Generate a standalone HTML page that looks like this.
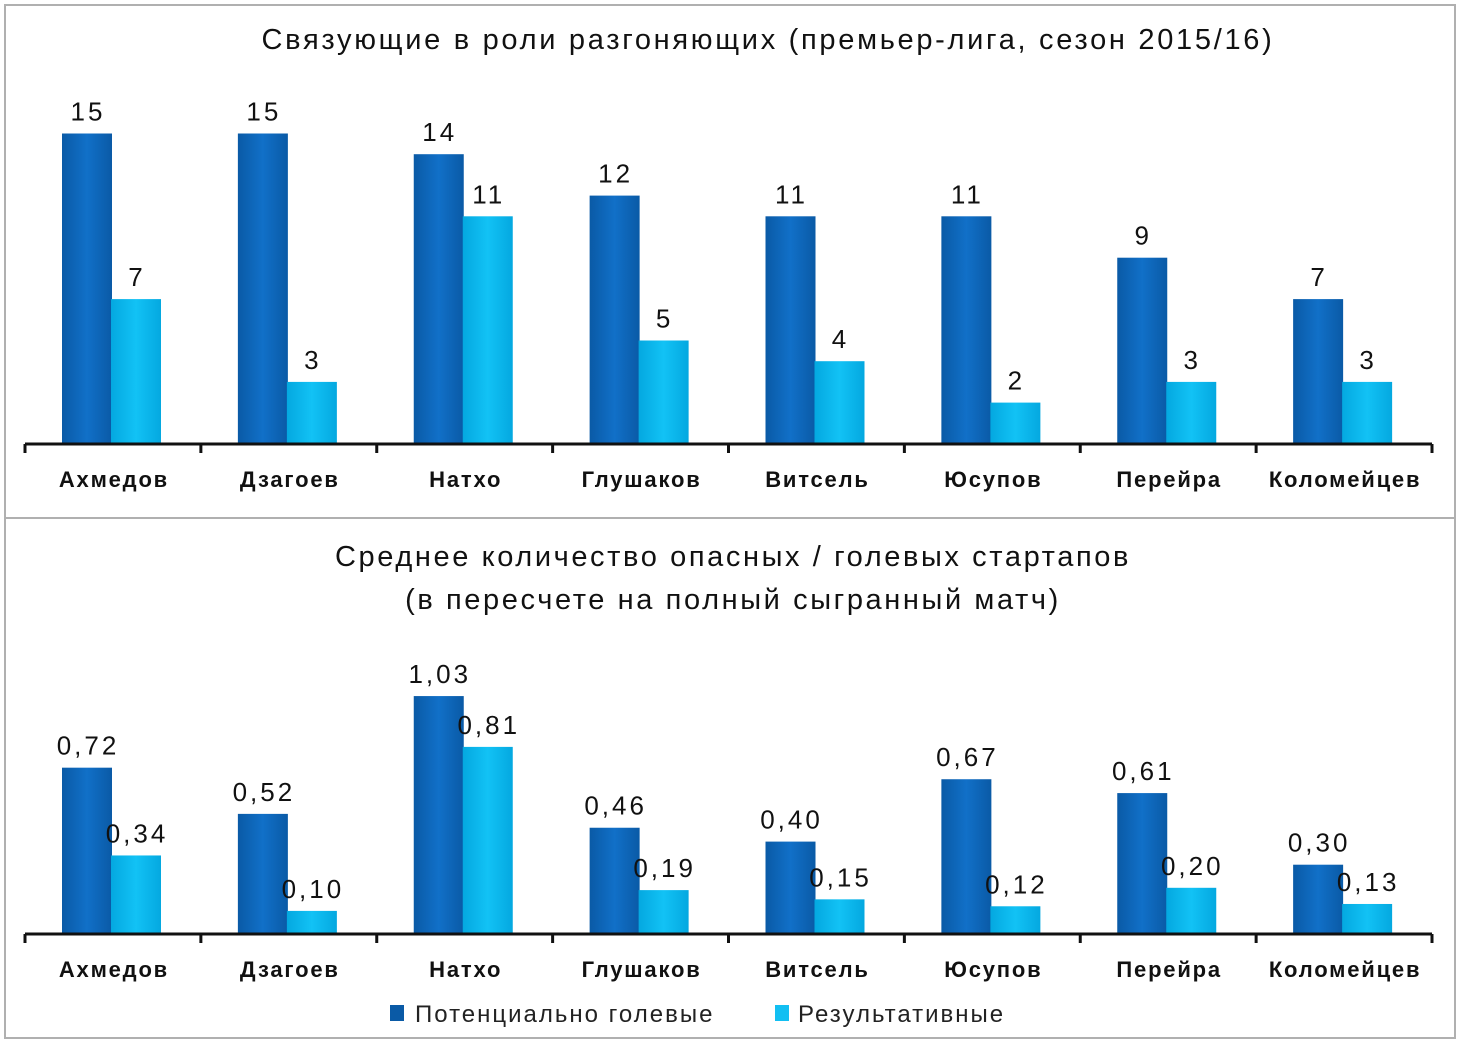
<!DOCTYPE html>
<html><head><meta charset="utf-8">
<style>
html,body{margin:0;padding:0;background:#fff;}
svg{display:block;font-family:"Century Gothic","Liberation Sans","DejaVu Sans",sans-serif;}
</style></head>
<body>
<svg id="c" width="1460" height="1042" viewBox="0 0 1460 1042" xmlns="http://www.w3.org/2000/svg">
<defs>
<linearGradient id="gd" x1="0" x2="1" y1="0" y2="0"><stop offset="0" stop-color="#0a5aa6"/><stop offset="0.5" stop-color="#1170c8"/><stop offset="1" stop-color="#0a5aa6"/></linearGradient>
<linearGradient id="gl" x1="0" x2="1" y1="0" y2="0"><stop offset="0" stop-color="#04a8e0"/><stop offset="0.5" stop-color="#12c2f5"/><stop offset="1" stop-color="#04a8e0"/></linearGradient>
</defs>
<rect x="5" y="5" width="1450" height="513" fill="#fff" stroke="#b0b0b0" stroke-width="2"/>
<rect x="5" y="518" width="1450" height="520" fill="#fff" stroke="#b0b0b0" stroke-width="2"/>
<text x="768" y="49" font-size="29" letter-spacing="2.7" text-anchor="middle" fill="#111">Связующие в роли разгоняющих (премьер-лига, сезон 2015/16)</text>
<text x="733" y="566" font-size="29" letter-spacing="2.6" text-anchor="middle" fill="#111">Среднее количество опасных / голевых стартапов</text>
<text x="733" y="609" font-size="29" letter-spacing="2.6" text-anchor="middle" fill="#111">(в пересчете на полный сыгранный матч)</text>
<g id="g1"></g>
<g id="g2"></g>
<g>
<rect x="390" y="1005" width="14" height="16" fill="#0a5aa6"/>
<text x="415" y="1022" font-size="24" letter-spacing="2" fill="#222">Потенциально голевые</text>
<rect x="775" y="1005" width="14" height="16" fill="#12bff2"/>
<text x="798" y="1022" font-size="24" letter-spacing="2" fill="#222">Результативные</text>
</g>
</svg>
<script>
const categories = ["Ахмедов","Дзагоев","Натхо","Глушаков","Витсель","Юсупов","Перейра","Коломейцев"];
const topPotential = [15,15,14,12,11,11,9,7];
const topEffective = [7,3,11,5,4,2,3,3];
const botPotential = [0.72,0.52,1.03,0.46,0.40,0.67,0.61,0.30];
const botEffective = [0.34,0.10,0.81,0.19,0.15,0.12,0.20,0.13];

const NS="http://www.w3.org/2000/svg";
function mk(tag,attrs,parent){const e=document.createElementNS(NS,tag);for(const k in attrs)e.setAttribute(k,attrs[k]);parent.appendChild(e);return e;}
function draw(gid,pot,eff,baseY,scale,fmt,labelY,prefix){
  const g=document.getElementById(gid);
  const x0=25,x1=1432,gw=(x1-x0)/categories.length;
  const xs=i=>x0+i*gw;
  const y=v=>baseY-v*scale;
  categories.forEach((c,i)=>{
    const bx=xs(i)+37;
    [[pot[i],"url(#gd)",bx,"potential"],[eff[i],"url(#gl)",bx+49,"effective"]].forEach(([v,f,x,s])=>{
      const r=mk("rect",{x:x,y:y(v),width:50,height:baseY-y(v),fill:f},g);
      
      
      const t=mk("text",{x:x+26,y:y(v)-13,"font-size":26,"letter-spacing":3,"text-anchor":"middle",fill:"#111"},g);
      t.textContent=fmt(v);
      
      
    });
    const l=mk("text",{x:xs(i)+gw/2+1,y:labelY,"font-size":22,"font-weight":"bold","letter-spacing":1.8,"text-anchor":"middle",fill:"#111"},g);
    l.textContent=c;
    
    
  });
  const ax=mk("line",{x1:x0,x2:x1,y1:baseY,y2:baseY,stroke:"#111","stroke-width":3},g);
  
  
  for(let i=0;i<=categories.length;i++){
    const tk=mk("line",{x1:xs(i),x2:xs(i),y1:baseY,y2:baseY+9,stroke:"#111","stroke-width":3},g);
    
    
  }
}
draw("g1",topPotential,topEffective,444,20.7,v=>String(v),487,"top");
draw("g2",botPotential,botEffective,934,231,v=>v.toFixed(2).replace(".",","),977,"bottom");
</script>
</body></html>
